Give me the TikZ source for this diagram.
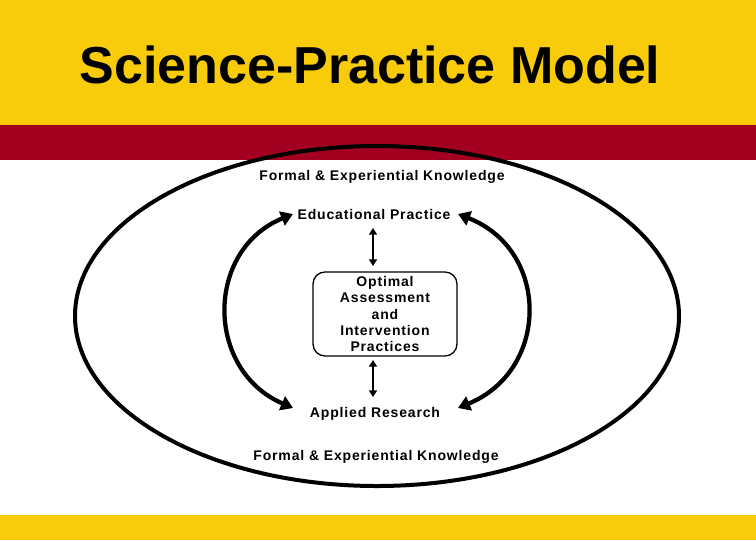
\documentclass[tikz,border=0pt]{standalone}
\usepackage{fontspec}
\setmainfont{Liberation Sans}
\newfontfamily\lblfont[LetterSpace=6]{Liberation Sans}
\usetikzlibrary{arrows.meta}
\definecolor{bandyellow}{RGB}{248,204,10}
\definecolor{bandred}{RGB}{163,0,33}
\begin{document}
\begin{tikzpicture}[x=0.75pt,y=-0.75pt,
  lbl/.style={font=\lblfont\bfseries\fontsize{10.5}{12}\selectfont,inner sep=1pt},
  arr/.style={line width=3.2pt,{Triangle[length=9pt,width=11pt]}-{Triangle[length=9pt,width=11pt]}},
  sarr/.style={line width=1.5pt,{Triangle[length=5pt,width=6pt]}-{Triangle[length=5pt,width=6pt]}}]
\useasboundingbox (0,0) rectangle (756,540);
\fill[bandyellow] (0,0) rectangle (756,125);
\fill[bandred] (0,125) rectangle (756,160);
\fill[bandyellow] (0,515) rectangle (756,540);
\node (title) at (370,65) {\bfseries\fontsize{39}{44}\selectfont Science-Practice Model};
\draw[line width=3pt] (377,316) ellipse [x radius=302, y radius=170];
\node[lbl] (fk1) at (382,177) {Formal \& Experiential Knowledge};
\node[lbl] (ep) at (374,214) {Educational Practice};
\node[lbl] (ar) at (375,414) {Applied Research};
\node[lbl] (fk2) at (376,457) {Formal \& Experiential Knowledge};
\node[draw,line width=1pt,rounded corners=9pt,minimum width=108pt,minimum height=63pt,align=center,
  font=\lblfont\bfseries\fontsize{10.5}{12.3}\selectfont,inner sep=1pt] (box) at (385,314)
  {Optimal\\Assessment\\and\\Intervention\\Practices};
\draw[sarr] (373,228) -- (373,266);
\draw[sarr] (373,360) -- (373,397);
\draw[arr] (293,214) .. controls (205,250) and (205,370) .. (293,408);
\draw[arr] (458,214) .. controls (550,250) and (550,370) .. (458,408);
\end{tikzpicture}
\end{document}
